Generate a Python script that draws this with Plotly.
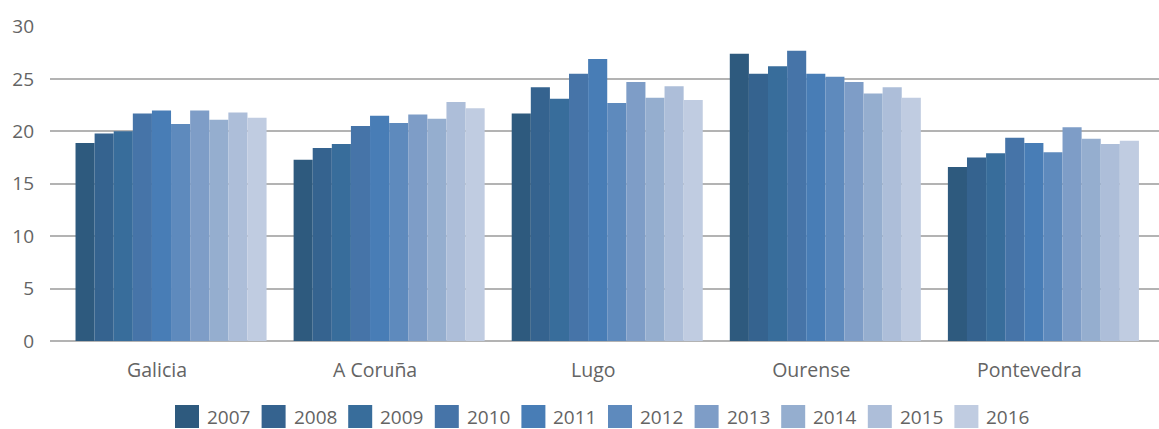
import plotly.graph_objects as go

# Provinces on the category axis
provinces = ["Galicia", "A Coruña", "Lugo", "Ourense", "Pontevedra"]
years = ["2007", "2008", "2009", "2010", "2011", "2012", "2013", "2014", "2015", "2016"]

# Values per year, one entry per province
v2007 = [18.9, 17.3, 21.7, 27.4, 16.6]
v2008 = [19.8, 18.4, 24.2, 25.5, 17.5]
v2009 = [20.0, 18.8, 23.1, 26.2, 17.9]
v2010 = [21.7, 20.5, 25.5, 27.7, 19.4]
v2011 = [22.0, 21.5, 26.9, 25.5, 18.9]
v2012 = [20.7, 20.8, 22.7, 25.2, 18.0]
v2013 = [22.0, 21.6, 24.7, 24.7, 20.4]
v2014 = [21.1, 21.2, 23.2, 23.6, 19.3]
v2015 = [21.8, 22.8, 24.3, 24.2, 18.8]
v2016 = [21.3, 22.2, 23.0, 23.2, 19.1]

series = [v2007, v2008, v2009, v2010, v2011, v2012, v2013, v2014, v2015, v2016]

colors = ["#2e5a7e", "#35638f", "#386d9b", "#4674a8", "#487db6",
          "#5e8abd", "#7e9dc7", "#95aecf", "#adbed9", "#c0cce1"]

W, H = 1159, 429
ML, MR, MT, MB = 50, 0, 26, 88
PW, PH = W - ML - MR, H - MT - MB

TEXT = "#646464"
FONT = "Open Sans"
GRID = "#b3b3b3"

fig = go.Figure()
for yr, vals, col in zip(years, series, colors):
    fig.add_trace(go.Bar(
        x=provinces, y=vals, name=yr,
        marker=dict(color=col, line=dict(width=0)),
        showlegend=False,
    ))

# Legend drawn as large colour swatches with labels beneath the plot
def px_to_paper_x(px):
    return (px - ML) / PW

def px_to_paper_y(py):
    return (H - MB - py) / PH

sw_left0, sw_step, sw_size = 175, 86.6, 24
sw_top, sw_bot = 405, 428
shapes = []
annotations = []
for i, (yr, col) in enumerate(zip(years, colors)):
    x0 = sw_left0 + i * sw_step
    shapes.append(dict(
        type="rect", xref="paper", yref="paper",
        x0=px_to_paper_x(x0), x1=px_to_paper_x(x0 + sw_size),
        y0=px_to_paper_y(sw_bot), y1=px_to_paper_y(sw_top),
        fillcolor=col, line=dict(width=0),
    ))
    annotations.append(dict(
        xref="paper", yref="paper",
        x=px_to_paper_x(x0 + sw_size + 6), y=px_to_paper_y(416.5),
        xanchor="left", yanchor="middle", showarrow=False,
        text=yr, font=dict(family=FONT, size=19, color=TEXT),
    ))

fig.update_layout(
    width=W, height=H,
    margin=dict(l=ML, r=MR, t=MT, b=MB, pad=0),
    paper_bgcolor="white", plot_bgcolor="white",
    barmode="group", bargap=0.124, bargroupgap=0,
    showlegend=False,
    font=dict(family=FONT, size=19, color=TEXT),
    shapes=shapes, annotations=annotations,
)
fig.update_xaxes(
    range=[-0.555, 4.53], showgrid=False, zeroline=False,
    showline=False, ticks="", tickfont=dict(family=FONT, size=19.5, color=TEXT),
    ticklabelstandoff=15, ticklabelshift=-14,
)
fig.update_yaxes(
    range=[0, 30.05], tickvals=[0, 5, 10, 15, 20, 25, 30],
    showgrid=True, gridcolor=GRID, gridwidth=2,
    zeroline=True, zerolinecolor=GRID, zerolinewidth=2,
    showline=False, ticks="", tickfont=dict(family=FONT, size=19, color=TEXT),
    ticklabelstandoff=15,
)

fig.write_html("out.html")
